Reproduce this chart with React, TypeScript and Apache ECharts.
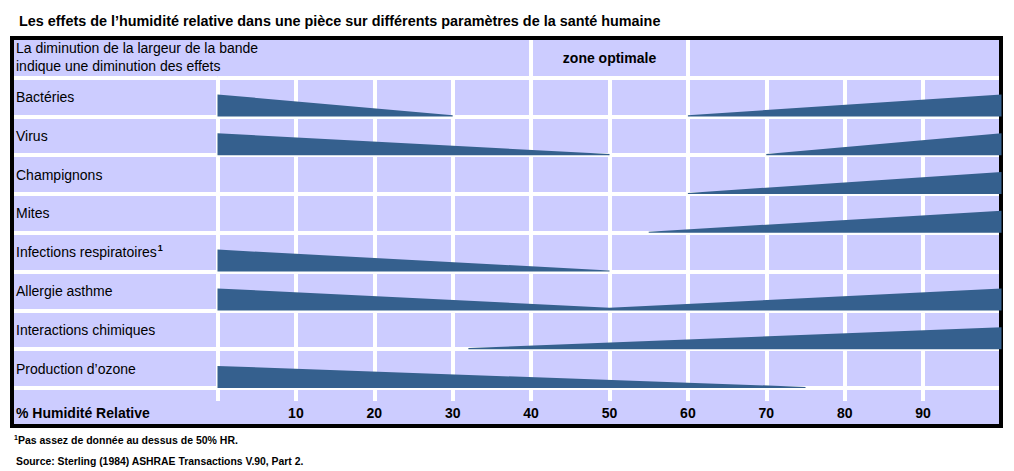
import React, { useEffect, useRef } from "react";
import * as echarts from "echarts";

// ---- data ----
const titleText = "Les effets de l’humidité relative dans une pièce sur différents paramètres de la santé humaine";
const headerNote = "La diminution de la largeur de la bande\nindique une diminution des effets";
const zoneLabel = "zone optimale";
const zoneRange = [40, 60];
const axisTitle = "% Humidité Relative";
const footnote1 = "Pas assez de donnée au dessus de 50% HR.";
const sourceNote = "Source: Sterling (1984) ASHRAE Transactions V.90, Part 2.";

const categories = [
  "Bactéries",
  "Virus",
  "Champignons",
  "Mites",
  "Infections respiratoires",
  "Allergie asthme",
  "Interactions chimiques",
  "Production d’ozone",
];
const footnoteMarks = ["", "", "", "", "1", "", "", ""];

// each band: list of segments, each segment a list of [RH %, relative width]
const bandBacteries = [[[0, 1.0], [30, 0.05]], [[60, 0.05], [100, 1.0]]];
const bandVirus = [[[0, 1.0], [50, 0.05]], [[70, 0.05], [100, 1.0]]];
const bandChampignons = [[[60, 0.05], [100, 1.0]]];
const bandMites = [[[55, 0.05], [100, 1.0]]];
const bandInfections = [[[0, 1.0], [50, 0.05]]];
const bandAllergie = [[[0, 1.0], [50, 0.12], [100, 1.0]]];
const bandInteractions = [[[32, 0.05], [100, 1.0]]];
const bandOzone = [[[0, 1.0], [75, 0.05]]];

const bands = [
  bandBacteries,
  bandVirus,
  bandChampignons,
  bandMites,
  bandInfections,
  bandAllergie,
  bandInteractions,
  bandOzone,
];

// ---- layout ----
const FONT = "'Liberation Sans', Arial, sans-serif";
const X0 = 217.5;
const X1 = 1001.5;
const PX = (X1 - X0) / 100;
const ROW_TOP = 77.6;
const ROW_H = 38.8;
const BAND_FRAC = 22 / 38.8;
const LAV = "#CCCCFF";
const BLUE = "#35608E";

export default function App() {
  const ref = useRef<HTMLDivElement>(null);

  useEffect(() => {
    if (!ref.current) return;
    const chart = echarts.init(ref.current, null, { renderer: "svg" });

    const segItems: { cat: number; pts: number[][] }[] = [];
    bands.forEach((segs, ci) => {
      segs.forEach((pts) => segItems.push({ cat: ci, pts }));
    });

    const plotH = ROW_H * categories.length;

    const option: any = {
      animation: false,
      backgroundColor: "#ffffff",
      textStyle: { fontFamily: FONT },
      title: {
        text: titleText,
        left: 14,
        top: 9,
        textStyle: { fontFamily: FONT, fontSize: 14.4, fontWeight: "bold", color: "#000" },
      },
      grid: [
        { left: X0, width: X1 - X0, top: ROW_TOP, height: plotH },
        { left: 14, width: X0 - 14, top: ROW_TOP, height: plotH },
        {
          left: X0 + zoneRange[0] * PX,
          width: (zoneRange[1] - zoneRange[0]) * PX,
          top: 40,
          height: ROW_TOP - 40,
        },
      ],
      xAxis: [
        {
          gridIndex: 0,
          type: "value",
          min: 0,
          max: 100,
          interval: 10,
          position: "bottom",
          axisLine: { show: false },
          axisTick: { show: true, length: 13, lineStyle: { color: "#fff", width: 4 } },
          axisLabel: {
            margin: 18,
            fontSize: 14,
            fontWeight: "bold",
            color: "#000",
            fontFamily: FONT,
            formatter: (v: number) => (v === 0 || v === 100 ? "" : String(v)),
          },
          splitLine: { show: true, lineStyle: { color: "#fff", width: 4 } },
        },
        { gridIndex: 1, type: "value", min: 0, max: 1, show: false },
        {
          gridIndex: 2,
          type: "value",
          min: zoneRange[0],
          max: zoneRange[1],
          interval: zoneRange[1] - zoneRange[0],
          axisLine: { show: false },
          axisTick: { show: false },
          axisLabel: { show: false },
          splitLine: { show: true, lineStyle: { color: "#fff", width: 4 } },
        },
      ],
      yAxis: [
        {
          gridIndex: 0,
          type: "category",
          data: categories,
          inverse: true,
          axisLine: { show: false },
          axisTick: { show: false },
          axisLabel: { show: false },
          splitLine: { show: true, interval: 0, lineStyle: { color: "#fff", width: 4 } },
        },
        {
          gridIndex: 1,
          type: "category",
          data: categories,
          inverse: true,
          position: "left",
          axisLine: { show: false },
          axisTick: { show: false },
          axisLabel: {
            inside: true,
            align: "left",
            margin: 2,
            interval: 0,
            formatter: (val: string, idx: number) =>
              footnoteMarks[idx] ? `{n|${val}}{s|${footnoteMarks[idx]}}` : `{n|${val}}`,
            rich: {
              n: { fontSize: 14, color: "#000", fontFamily: FONT },
              s: { fontSize: 9, fontWeight: "bold", color: "#000", fontFamily: FONT, padding: [0, 0, 9, 1] },
            },
          },
          splitLine: { show: true, interval: 0, lineStyle: { color: "#fff", width: 4 } },
        },
        { gridIndex: 2, type: "value", show: false },
      ],
      series: [
        {
          type: "custom",
          xAxisIndex: 0,
          yAxisIndex: 0,
          clip: false,
          z: 3,
          data: segItems.map((s) => [s.pts[0][0], s.cat]),
          renderItem: (params: any, api: any) => {
            const item = segItems[params.dataIndex];
            const bandH = api.size([0, 1])[1];
            const H = bandH * BAND_FRAC;
            const tops: number[][] = [];
            const bottoms: number[][] = [];
            item.pts.forEach(([rh, w]) => {
              const c = api.coord([rh, item.cat]);
              const bottom = c[1] + bandH / 2;
              tops.push([c[0], bottom - w * H]);
              bottoms.push([c[0], bottom]);
            });
            return {
              type: "polygon",
              shape: { points: tops.concat(bottoms.reverse()) },
              style: { fill: BLUE },
            };
          },
        },
      ],
      graphic: [
        {
          type: "rect",
          z: -10,
          silent: true,
          shape: { x: 14, y: 40, width: 985, height: 384 },
          style: { fill: LAV },
        },
        {
          type: "rect",
          z: 1,
          silent: true,
          shape: { x: 12, y: 38, width: 989, height: 388 },
          style: { fill: "none", stroke: "#000", lineWidth: 4 },
        },
        {
          type: "text",
          z: 5,
          x: 16,
          y: 38.5,
          style: { text: headerNote, font: `14px ${FONT}`, lineHeight: 18, fill: "#000" },
        },
        {
          type: "text",
          z: 5,
          x: X0 + ((zoneRange[0] + zoneRange[1]) / 2) * PX,
          y: 58,
          style: {
            text: zoneLabel,
            font: `bold 14px ${FONT}`,
            fill: "#000",
            align: "center",
            verticalAlign: "middle",
          },
        },
        {
          type: "text",
          z: 5,
          x: 16,
          y: 413,
          style: {
            text: axisTitle,
            font: `bold 14px ${FONT}`,
            fill: "#000",
            verticalAlign: "middle",
          },
        },
        {
          type: "text",
          z: 5,
          x: 14,
          y: 440,
          style: {
            text: `{s|1}{t|${footnote1}}`,
            verticalAlign: "middle",
            rich: {
              s: { fontSize: 7, fontWeight: "bold", fill: "#000", fontFamily: FONT, padding: [0, 0, 6, 0] },
              t: { fontSize: 10.5, fontWeight: "bold", fill: "#000", fontFamily: FONT },
            },
          },
        },
        {
          type: "text",
          z: 5,
          x: 16,
          y: 461,
          style: {
            text: sourceNote,
            font: `bold 10.4px ${FONT}`,
            fill: "#000",
            verticalAlign: "middle",
          },
        },
      ],
    };

    chart.setOption(option);
    return () => chart.dispose();
  }, []);

  return (
    <div
      ref={ref}
      style={{ position: "absolute", left: 0, top: 0, width: 1014, height: 471, background: "#fff" }}
    />
  );
}
